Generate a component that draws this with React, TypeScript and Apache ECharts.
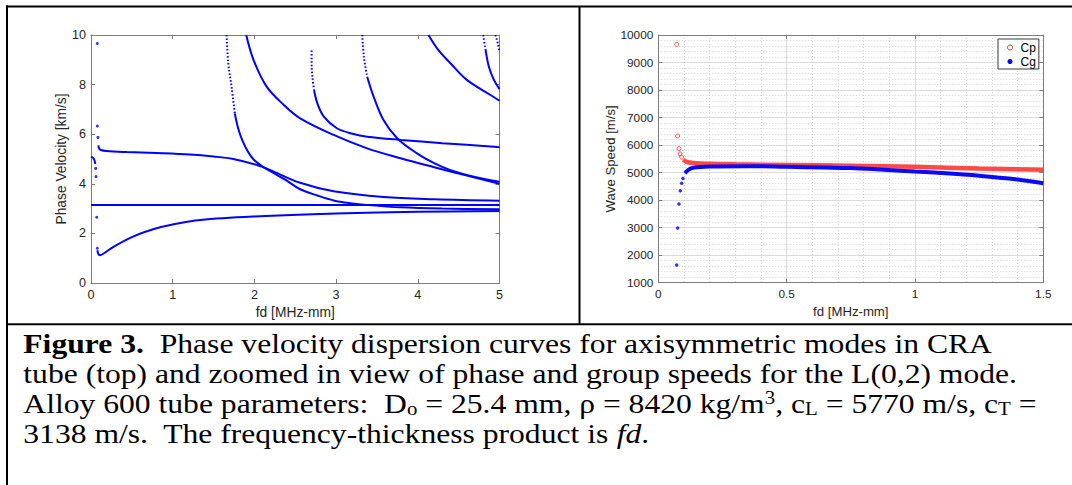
import React, { useEffect, useRef } from 'react';
import * as echarts from 'echarts';

const SANS = 'Liberation Sans';
const SERIF = 'Liberation Serif';

// ---------- Left chart: phase velocity dispersion curves (fd [MHz-mm], km/s) ----------
const fdTicksLeft = [0, 5, 1];
const vTicksLeft = [0, 10, 2];

const modeL01 = [[0.078, 1.32], [0.09, 1.17], [0.11, 1.12], [0.15, 1.18], [0.27, 1.45], [0.52, 1.88], [0.76, 2.17], [1.0, 2.36], [1.34, 2.54], [2.0, 2.68], [3.0, 2.8], [4.0, 2.87], [5.0, 2.9]];
const modeT = [[0, 3.15], [5, 3.15]];
const modeL02Start = [[0, 5.08], [0.02, 5.06], [0.035, 5.0], [0.045, 4.92], [0.052, 4.8]];
const modeA = [[0.09, 5.55], [0.1, 5.42], [0.12, 5.36], [0.19, 5.32], [0.44, 5.28], [0.8, 5.24], [1.21, 5.18], [1.5, 5.1], [1.74, 5.0], [2.03, 4.76], [2.19, 4.56], [2.56, 4.04], [2.97, 3.7], [3.58, 3.47], [4.2, 3.38], [5, 3.32]];
const modeBDots = [[1.66, 10], [1.68, 8.86], [1.72, 7.92], [1.76, 6.84]];
const modeB = [[1.76, 6.84], [1.8, 6.25], [1.85, 5.77], [1.92, 5.3], [1.99, 4.98], [2.08, 4.74], [2.19, 4.52], [2.4, 4.12], [2.56, 3.78], [2.77, 3.53], [2.97, 3.33], [3.17, 3.22], [3.4, 3.14], [3.79, 3.05], [4.3, 3.0], [5, 2.97]];
const modeC = [[1.9, 10], [1.99, 8.99], [2.15, 7.92], [2.36, 7.18], [2.56, 6.64], [2.97, 5.97], [3.38, 5.43], [3.79, 5.03], [4.2, 4.67], [4.6, 4.33], [5, 4.0]];
const modeDDots = [[3.32, 10], [3.34, 9.12], [3.38, 8.32]];
const modeD = [[3.38, 8.32], [3.46, 7.51], [3.58, 6.57], [3.75, 5.83], [3.99, 5.23], [4.2, 4.83], [4.4, 4.55], [4.7, 4.28], [5, 4.08]];
const modeEDots = [[2.7, 9.37], [2.7, 8.86], [2.71, 8.32], [2.73, 7.78]];
const modeE = [[2.73, 7.78], [2.77, 7.25], [2.85, 6.71], [3.01, 6.24], [3.2, 6.02], [3.38, 5.9], [3.79, 5.77], [4.3, 5.64], [4.89, 5.5], [5, 5.47]];
const modeF = [[4.13, 10], [4.25, 9.4], [4.4, 8.86], [4.6, 8.19], [4.89, 7.58], [5, 7.35]];
const modeGDots = [[4.8, 10], [4.83, 9.4]];
const modeG = [[4.83, 9.4], [4.87, 8.72], [4.93, 8.2], [5, 7.82]];
const modeHDots = [[4.95, 10], [4.98, 9.65], [5, 9.3]];
const strayDots = [[0.077, 9.66], [0.077, 6.33], [0.085, 5.87], [0.057, 4.62], [0.061, 4.29], [0.07, 2.65], [0.077, 1.4]];

// ---------- Right chart: L(0,2) phase (Cp) and group (Cg) speeds (m/s) ----------
const fdTicksRight = [0, 1.5, 0.5];
const speedTicksRight = [1000, 10000, 1000];

const cpSparse = [[0.0716, 9660], [0.0754, 6330], [0.0806, 5870], [0.0845, 5680], [0.091, 5560]];
const cpBand = [[0.0975, 5470], [0.11, 5390], [0.136, 5350], [0.2, 5320], [0.3, 5300], [0.5, 5280], [0.75, 5250], [1.0, 5210], [1.25, 5150], [1.5, 5100]];
const cgSparse = [[0.0716, 1640], [0.0754, 2990], [0.0806, 3860], [0.0858, 4340], [0.091, 4610], [0.096, 4790]];
const cgBand = [[0.104, 4980], [0.117, 5100], [0.136, 5180], [0.2, 5225], [0.35, 5235], [0.5, 5210], [0.65, 5185], [0.75, 5165], [0.85, 5120], [1.0, 5040], [1.1, 4990], [1.25, 4890], [1.4, 4750], [1.5, 4615]];

const captionLines = [
  '{b|Figure 3.}  Phase velocity dispersion curves for axisymmetric modes in CRA',
  'tube (top) and zoomed in view of phase and group speeds for the L(0,2) mode.',
  'Alloy 600 tube parameters:  D{sub|o} = 25.4 mm, ρ = 8420 kg/m{sup|3}, c{sub|L} = 5770 m/s, c{sub|T} =',
  '3138 m/s.  The frequency-thickness product is {i|fd}.',
];

const AXIS_COLOR = '#7c7c7c';
const LABEL_COLOR = '#262626';

function mkAxis(
  gridIndex: number,
  ticks: number[],
  position: string,
  main: boolean,
  gridOn: boolean,
  tickFont: number,
  nameFont: number,
  name?: string,
  nameGap?: number
) {
  return {
    type: 'value',
    gridIndex,
    position,
    min: ticks[0],
    max: ticks[1],
    interval: ticks[2],
    axisLine: { show: true, onZero: false, lineStyle: { color: AXIS_COLOR, width: 1 } },
    axisTick: { show: true, inside: true, length: 4, lineStyle: { color: AXIS_COLOR, width: 1 } },
    axisLabel: {
      show: main,
      margin: 5,
      fontSize: tickFont,
      fontFamily: SANS,
      color: LABEL_COLOR,
      formatter: (v: number) => String(v),
    },
    splitLine: { show: main && gridOn, lineStyle: { color: '#dcdcdc', width: 1 } },
    minorTick: { show: false, splitNumber: 5 },
    minorSplitLine: { show: main && gridOn, lineStyle: { color: '#d2d2d2', width: 1, type: [1, 2] } },
    name: main ? name : undefined,
    nameLocation: 'middle',
    nameGap,
    nameTextStyle: { fontSize: nameFont, fontFamily: SANS, color: LABEL_COLOR },
  };
}

function lineSeries(data: number[][], dotted = false) {
  return {
    type: 'line',
    xAxisIndex: 0,
    yAxisIndex: 0,
    data,
    showSymbol: false,
    smooth: 0.35,
    lineStyle: { color: '#0000ff', width: 2, type: dotted ? [1.5, 2] : 'solid' },
    silent: true,
  };
}

export default function App() {
  const ref = useRef<HTMLDivElement>(null);

  useEffect(() => {
    if (!ref.current) return;
    const chart = echarts.init(ref.current, undefined, { renderer: 'svg' });

    const option: any = {
      animation: false,
      backgroundColor: '#ffffff',
      textStyle: { fontFamily: SANS },
      grid: [
        { left: 91, top: 35, width: 408.5, height: 248, containLabel: false },
        { left: 658.3, top: 35, width: 385, height: 247.7, containLabel: false },
      ],
      xAxis: [
        mkAxis(0, fdTicksLeft, 'bottom', true, false, 12.6, 13.8, 'fd [MHz-mm]', 20),
        mkAxis(0, fdTicksLeft, 'top', false, false, 12.6, 13.8),
        mkAxis(1, fdTicksRight, 'bottom', true, true, 11.8, 13.2, 'fd [MHz-mm]', 21),
        mkAxis(1, fdTicksRight, 'top', false, true, 11.8, 13.2),
      ],
      yAxis: [
        mkAxis(0, vTicksLeft, 'left', true, false, 12.6, 13.8, 'Phase Velocity [km/s]', 21),
        mkAxis(0, vTicksLeft, 'right', false, false, 12.6, 13.8),
        mkAxis(1, speedTicksRight, 'left', true, true, 11.8, 13.2, 'Wave Speed [m/s]', 38),
        mkAxis(1, speedTicksRight, 'right', false, true, 11.8, 13.2),
      ],
      legend: {
        orient: 'vertical',
        left: 998,
        top: 39,
        padding: [2, 3, 1, 9],
        itemGap: 1,
        itemWidth: 5,
        itemHeight: 5,
        borderColor: '#3a3a3a',
        borderWidth: 1,
        borderRadius: 0,
        backgroundColor: '#ffffff',
        selectedMode: false,
        textStyle: { fontSize: 12, fontFamily: SANS, color: '#000', lineHeight: 13, padding: [0, 0, 0, 3] },
        data: [
          { name: 'Cp', icon: 'circle', itemStyle: { color: 'transparent', borderColor: '#ff2a2a', borderWidth: 1 } },
          { name: 'Cg', icon: 'circle', itemStyle: { color: '#0000ff', borderWidth: 0 } },
        ],
      },
      series: [
        lineSeries(modeL01),
        lineSeries(modeT),
        lineSeries(modeL02Start),
        lineSeries(modeA),
        lineSeries(modeBDots, true),
        lineSeries(modeB),
        lineSeries(modeC),
        lineSeries(modeDDots, true),
        lineSeries(modeD),
        lineSeries(modeEDots, true),
        lineSeries(modeE),
        lineSeries(modeF),
        lineSeries(modeGDots, true),
        lineSeries(modeG),
        lineSeries(modeHDots, true),
        {
          type: 'scatter',
          xAxisIndex: 0,
          yAxisIndex: 0,
          data: strayDots,
          symbol: 'circle',
          symbolSize: 3,
          itemStyle: { color: '#0000ff' },
          silent: true,
        },
        {
          name: 'Cp',
          type: 'line',
          xAxisIndex: 2,
          yAxisIndex: 2,
          data: cpBand,
          showSymbol: false,
          smooth: 0.35,
          lineStyle: { color: '#ff4848', width: 4.5 },
          itemStyle: { color: '#ff2a2a' },
          silent: true,
        },
        {
          name: 'Cp',
          type: 'scatter',
          xAxisIndex: 2,
          yAxisIndex: 2,
          data: cpSparse,
          symbol: 'circle',
          symbolSize: 4,
          itemStyle: { color: 'transparent', borderColor: '#ff2a2a', borderWidth: 1 },
          silent: true,
        },
        {
          name: 'Cg',
          type: 'line',
          xAxisIndex: 2,
          yAxisIndex: 2,
          data: cgBand,
          showSymbol: false,
          smooth: 0.35,
          lineStyle: { color: '#0a0aff', width: 4 },
          itemStyle: { color: '#0000ff' },
          silent: true,
        },
        {
          name: 'Cg',
          type: 'scatter',
          xAxisIndex: 2,
          yAxisIndex: 2,
          data: cgSparse,
          symbol: 'circle',
          symbolSize: 3.5,
          itemStyle: { color: '#0000ff' },
          silent: true,
        },
      ],
      graphic: [
        { type: 'line', shape: { x1: 6, y1: 6.5, x2: 1072, y2: 6.5 }, style: { stroke: '#000', lineWidth: 2 } },
        { type: 'line', shape: { x1: 7, y1: 5.5, x2: 7, y2: 485 }, style: { stroke: '#000', lineWidth: 2 } },
        { type: 'line', shape: { x1: 579.5, y1: 6.5, x2: 579.5, y2: 324.3 }, style: { stroke: '#000', lineWidth: 2 } },
        { type: 'line', shape: { x1: 6, y1: 324.3, x2: 1072, y2: 324.3 }, style: { stroke: '#000', lineWidth: 2 } },
        {
          type: 'text',
          x: 23.3,
          y: 328,
          scaleX: 1.129,
          style: {
            text: captionLines.join('\n'),
            fontFamily: SERIF,
            fontSize: 28,
            lineHeight: 30,
            fill: '#000',
            align: 'left',
            verticalAlign: 'top',
            rich: {
              b: { fontFamily: SERIF, fontSize: 28, fontWeight: 'bold', lineHeight: 30, fill: '#000' },
              i: { fontFamily: SERIF, fontSize: 28, fontStyle: 'italic', lineHeight: 30, fill: '#000' },
              sub: { fontFamily: SERIF, fontSize: 18.5, lineHeight: 14, verticalAlign: 'bottom', fill: '#000' },
              sup: { fontFamily: SERIF, fontSize: 18.5, lineHeight: 21, verticalAlign: 'top', fill: '#000' },
            },
          },
        },
      ],
    };

    chart.setOption(option);
    return () => {
      chart.dispose();
    };
  }, []);

  return (
    <div
      ref={ref}
      style={{ position: 'absolute', left: 0, top: 0, width: 1072, height: 485, background: '#fff' }}
    />
  );
}
